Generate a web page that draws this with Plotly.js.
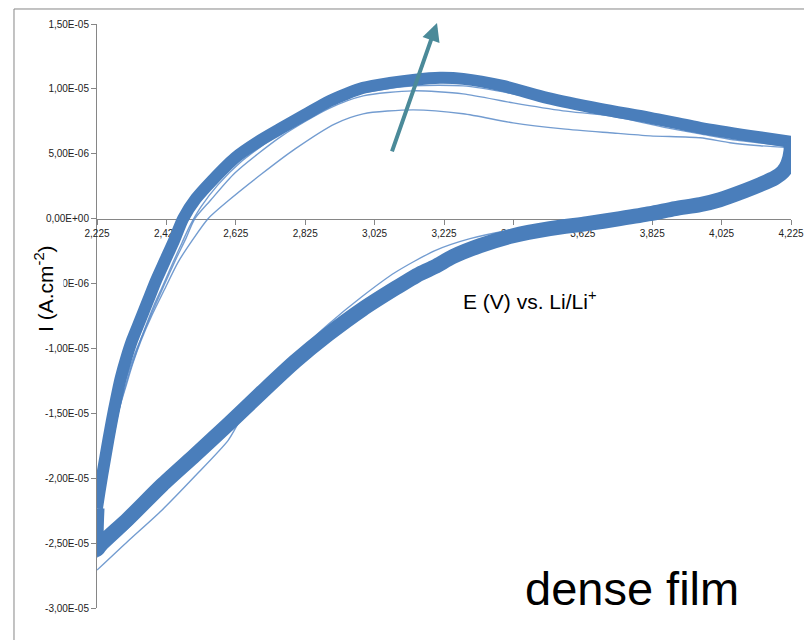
<!DOCTYPE html>
<html>
<head>
<meta charset="utf-8">
<script src="https://cdn.plot.ly/plotly-3.0.1.min.js"></script>
<style>html,body{margin:0;padding:0;background:#fff;}#chart{width:804px;height:640px;}</style>
</head>
<body>
<div id="chart"></div>
<script>
// Potential E (V vs Li/Li+) and current I (µA.cm-2; axis labels show A.cm-2)
// Thick band: later cycles, anodic (upper) branch
var bandUpE = [2.225,2.232,2.240,2.249,2.258,2.268,2.280,2.293,2.309,2.326,2.349,2.372,2.395,2.421,2.447,2.473,2.510,2.556,2.623,2.689,2.758,2.824,2.896,2.992,3.069,3.136,3.213,3.280,3.395,3.522,3.675,3.819,3.963,4.107,4.225];
var bandUpI = [-22.31,-21.08,-19.77,-18.38,-17.00,-15.54,-13.92,-12.31,-10.77,-9.38,-7.85,-6.31,-4.77,-3.23,-1.69,0.00,1.54,2.92,4.69,5.92,7.00,8.00,9.08,10.08,10.46,10.69,10.85,10.77,10.23,9.31,8.46,7.77,7.00,6.38,5.92];
// Thick band: cathodic (lower) branch
var bandDnE = [4.225,4.225,4.216,4.202,4.179,4.136,4.092,4.020,3.963,3.891,3.819,3.732,3.637,3.530,3.424,3.329,3.251,3.199,3.156,3.084,2.989,2.891,2.796,2.700,2.603,2.507,2.412,2.314,2.239,2.225,2.225];
var bandDnI = [5.92,5.23,4.23,3.62,3.15,2.62,2.15,1.46,1.08,0.77,0.38,0.00,-0.38,-0.77,-1.31,-2.08,-2.92,-3.70,-4.23,-5.38,-7.00,-8.92,-11.00,-13.38,-15.85,-18.23,-20.54,-23.15,-25.00,-25.46,-22.31];

// Cycle 1 (thin, lowest peak)
var c1UpE = [2.225,2.234,2.245,2.257,2.271,2.288,2.309,2.329,2.352,2.383,2.418,2.458,2.499,2.545,2.603,2.700,2.796,2.911,2.992,3.136,3.280,3.424,3.568,3.703,3.819,3.963,4.049,4.136,4.225];
var c1UpI = [-25.38,-23.23,-20.92,-19.00,-17.08,-14.77,-12.85,-11.08,-9.38,-7.46,-5.54,-3.38,-1.69,0.00,1.38,3.46,5.38,7.31,8.08,8.38,8.08,7.38,6.92,6.62,6.38,6.23,5.85,5.62,5.46];
var c1DnE = [4.225,4.225,4.208,4.179,4.136,4.020,3.891,3.790,3.703,3.588,3.424,3.300,3.199,3.084,2.989,2.891,2.810,2.752,2.689,2.637,2.603,2.507,2.412,2.314,2.225];
var c1DnI = [5.46,5.08,3.85,3.08,2.46,1.38,0.69,0.31,0.00,-0.31,-0.85,-1.54,-2.46,-4.15,-6.00,-8.15,-10.15,-11.69,-13.46,-15.54,-17.08,-19.85,-22.46,-24.85,-27.08];

// Cycle 2 (thin)
var c2UpE = [2.225,2.234,2.245,2.257,2.271,2.288,2.309,2.332,2.358,2.386,2.418,2.453,2.481,2.507,2.551,2.623,2.758,2.891,2.992,3.136,3.280,3.424,3.568,3.703,3.868,3.963,4.058,4.136,4.225];
var c2UpI = [-24.77,-22.46,-20.15,-18.23,-16.31,-14.15,-12.31,-10.54,-8.85,-7.08,-5.15,-3.08,-1.54,0.00,1.38,3.54,6.38,8.46,9.46,9.85,9.62,8.92,8.31,7.92,7.00,6.54,6.08,5.85,5.54];
var c2DnE = [4.225,4.225,4.202,4.136,4.020,3.819,3.637,3.424,3.251,3.084,2.891,2.700,2.603,2.507,2.412,2.314,2.225];
var c2DnI = [5.54,5.23,3.69,2.54,1.38,0.38,-0.38,-1.23,-2.80,-5.08,-8.62,-13.23,-15.85,-18.62,-21.08,-23.85,-26.08];

// Cycle 3 (thin, close to band)
var c3UpE = [2.225,2.237,2.248,2.260,2.274,2.288,2.303,2.320,2.340,2.363,2.389,2.415,2.444,2.470,2.493,2.525,2.574,2.637,2.758,2.896,2.992,3.136,3.280,3.424,3.568,3.703,3.868,4.020,4.136,4.225];
var c3UpI = [-23.23,-21.31,-19.77,-18.23,-16.46,-14.77,-13.23,-11.69,-10.15,-8.46,-6.69,-5.15,-3.38,-1.85,-0.54,0.92,2.62,4.31,6.69,8.77,9.69,10.23,10.23,9.62,8.77,8.08,7.31,6.62,6.00,5.62];

// Tick labels
var xTickVals = [2.225,2.425,2.625,2.825,3.025,3.225,3.425,3.625,3.825,4.025,4.225];
var xTickText = ["2,225","2,425","2,625","2,825","3,025","3,225","3,425","3,625","3,825","4,025","4,225"];
var yTickVals = [15,10,5,0,-5,-10,-15,-20,-25,-30];
var yTickText = ["1,50E-05","1,00E-05","5,00E-06","0,00E+00","-5,00E-06","-1,00E-05","-1,50E-05","-2,00E-05","-2,50E-05","-3,00E-05"];

var blue = '#4a7ebb';

function tr(x, y, width, color, op) {
  return {x: x, y: y, type: 'scatter', mode: 'lines',
          line: {color: color, width: width, shape: 'spline', smoothing: 0.7},
          opacity: op, hoverinfo: 'skip', showlegend: false};
}

var data = [
  tr(c1UpE, c1UpI, 1.4, '#5b8bc8', 0.85),
  tr(c1DnE, c1DnI, 1.4, '#5b8bc8', 0.85),
  tr(c2UpE, c2UpI, 1.4, '#5b8bc8', 0.85),
  tr(c2DnE, c2DnI, 1.4, '#5b8bc8', 0.85),
  tr(c3UpE, c3UpI, 1.4, '#5b8bc8', 0.85),
  tr(bandUpE, bandUpI, 12, blue, 1),
  tr(bandDnE, bandDnI, 15, blue, 1)
];

var tickFont = {family: 'Liberation Sans, Arial, sans-serif', size: 10, color: '#222'};
var titleFont = {family: 'Liberation Sans, Arial, sans-serif', size: 21, color: '#000'};

var layout = {
  width: 804, height: 640,
  margin: {l: 97, r: 13, t: 24, b: 32, pad: 0},
  paper_bgcolor: '#fff', plot_bgcolor: '#fff',
  showlegend: false,
  xaxis: {
    range: [2.225, 4.225], anchor: 'free', position: 0.666667,
    showline: true, linecolor: '#868686', linewidth: 1,
    ticks: 'outside', ticklen: 5, tickcolor: '#868686',
    tickmode: 'array', tickvals: xTickVals, ticktext: xTickText, tickfont: tickFont,
    showgrid: false, zeroline: false, layer: 'below traces', automargin: false, fixedrange: true
  },
  yaxis: {
    range: [-30, 15],
    showline: true, linecolor: '#868686', linewidth: 1,
    ticks: 'outside', ticklen: 5, tickcolor: '#868686',
    tickmode: 'array', tickvals: yTickVals, ticktext: yTickText, tickfont: tickFont,
    showgrid: false, zeroline: false, layer: 'below traces', automargin: false, fixedrange: true
  },
  shapes: [
    {type: 'rect', xref: 'paper', yref: 'paper', x0: -0.1196, x1: 1.03, y0: -0.08, y1: 1.0257,
     line: {color: '#868686', width: 1}, fillcolor: 'rgba(0,0,0,0)', layer: 'below'}
  ],
  annotations: [
    {xref: 'paper', yref: 'paper', x: -0.0764, y: 0.548, text: 'I (A.cm<sup>-2</sup>)', textangle: -90,
     showarrow: false, font: titleFont, bgcolor: '#fff', borderpad: 6, xanchor: 'center', yanchor: 'middle'},
    {xref: 'paper', yref: 'paper', x: 0.6225, y: 0.527, text: 'E (V) vs. Li/Li<sup>+</sup>',
     showarrow: false, font: titleFont, xanchor: 'center', yanchor: 'middle'},
    {xref: 'paper', yref: 'paper', x: 0.771, y: 0.034, text: 'dense film',
     showarrow: false, font: {family: 'Liberation Sans, Arial, sans-serif', size: 47, color: '#000'}, xanchor: 'center', yanchor: 'middle'},
    {xref: 'paper', yref: 'paper', x: 0.4899, y: 1.0017, text: ' ', showarrow: true,
     ax: -48, ay: 137, arrowcolor: '#4b8a99', arrowwidth: 4, arrowhead: 2, arrowsize: 0.9, standoff: 0}
  ]
};

Plotly.newPlot('chart', data, layout, {staticPlot: true, displayModeBar: false});
</script>
</body>
</html>
